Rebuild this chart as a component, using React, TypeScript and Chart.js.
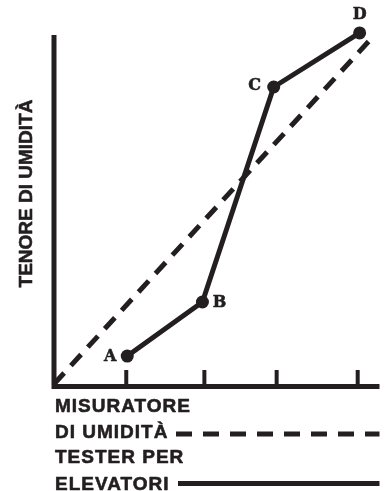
import React, { useEffect, useRef } from "react";
import { Chart, registerables } from "chart.js";

Chart.register(...registerables);

// Data (x in 0..100 along moisture meter reading, y in 0..100 moisture content)
const pointLabels = ["A", "B", "C", "D"];
const testerX = [22.5, 45.6, 67.5, 93.9];
const testerY = [8.0, 23.5, 85.1, 100.6];
const meterX = [0, 97.6];
const meterY = [0, 99.1];
const tickValues = [22.2, 46.2, 68.4, 93.3];
const yTitle = "TENORE DI UMIDITÀ";
const legendLines = ["MISURATORE", "DI UMIDITÀ", "TESTER PER", "ELEVATORI"];

const INK = "#231f20";
const SANS = "bold 19px 'Liberation Sans', Arial, sans-serif";
const MONO = "bold 16px 'DejaVu Serif', serif";

function heavyText(ctx: any, t: string, x: number, y: number) {
  ctx.fillText(t, x, y);
  ctx.lineWidth = 0.6;
  ctx.lineJoin = "round";
  ctx.strokeText(t, x, y);
}

const drawPlugin = {
  id: "customDraw",
  afterDatasetsDraw(chart: any) {
    const { ctx, chartArea, scales } = chart;
    const xs = scales.x;
    const ys = scales.y;
    ctx.save();
    ctx.strokeStyle = INK;
    ctx.fillStyle = INK;

    // Axes
    const x0 = xs.getPixelForValue(0);
    const y0 = ys.getPixelForValue(0);
    ctx.lineWidth = 5;
    ctx.lineCap = "butt";
    ctx.beginPath();
    ctx.moveTo(x0, chartArea.top);
    ctx.lineTo(x0, y0 + 2.5);
    ctx.lineTo(chartArea.right, y0 + 2.5);
    ctx.stroke();

    // Tick marks (pointing up)
    ctx.lineWidth = 4;
    tickValues.forEach((v) => {
      const px = xs.getPixelForValue(v);
      ctx.beginPath();
      ctx.moveTo(px, y0);
      ctx.lineTo(px, y0 - 14);
      ctx.stroke();
    });

    // Point labels
    const meta = chart.getDatasetMeta(0);
    const offsets = [
      [-17, 1],
      [17, 1],
      [-19, -1],
      [0, -18],
    ];
    ctx.font = MONO;
    ctx.textAlign = "center";
    ctx.textBaseline = "middle";
    meta.data.forEach((el: any, i: number) => {
      heavyText(ctx, pointLabels[i], el.x + offsets[i][0], el.y + offsets[i][1]);
    });

    // Y title
    ctx.save();
    ctx.translate(32, (chartArea.top + y0) / 2 - 16);
    ctx.rotate(-Math.PI / 2);
    ctx.font = SANS;
    ctx.textAlign = "center";
    ctx.textBaseline = "alphabetic";
    heavyText(ctx, yTitle, 0, 0);
    ctx.restore();

    // Legend
    ctx.font = SANS;
    (ctx as any).letterSpacing = "1px";
    ctx.textAlign = "left";
    ctx.textBaseline = "alphabetic";
    const baselines = [412, 438, 463, 490];
    legendLines.forEach((t, i) => heavyText(ctx, t, 55, baselines[i]));
    (ctx as any).letterSpacing = "0px";

    ctx.lineWidth = 5;
    ctx.setLineDash([16, 11]);
    ctx.beginPath();
    ctx.moveTo(176, 434);
    ctx.lineTo(chartArea.right, 434);
    ctx.stroke();
    ctx.setLineDash([]);
    ctx.beginPath();
    ctx.moveTo(178, 483.5);
    ctx.lineTo(chartArea.right, 483.5);
    ctx.stroke();

    ctx.restore();
  },
};

export default function App() {
  const ref = useRef<HTMLCanvasElement>(null);
  useEffect(() => {
    if (!ref.current) return;
    const chart = new Chart(ref.current, {
      type: "line",
      data: {
        datasets: [
          {
            label: "Tester per elevatori",
            data: testerX.map((x, i) => ({ x, y: testerY[i] })),
            borderColor: INK,
            backgroundColor: INK,
            borderWidth: 5,
            pointRadius: 6.5,
            pointBackgroundColor: INK,
            pointBorderWidth: 0,
            borderJoinStyle: "round",
            tension: 0,
            clip: false as any,
          },
          {
            label: "Misuratore di umidità",
            data: meterX.map((x, i) => ({ x, y: meterY[i] })),
            borderColor: INK,
            borderWidth: 5,
            borderDash: [15, 10],
            pointRadius: 0,
            tension: 0,
            clip: false as any,
          },
        ],
      },
      options: {
        responsive: false,
        animation: false,
        devicePixelRatio: 1,
        layout: { padding: { left: 54, right: 3, top: 35, bottom: 107 } },
        plugins: { legend: { display: false }, tooltip: { enabled: false } },
        scales: {
          x: { type: "linear", min: 0, max: 100, display: false },
          y: { type: "linear", min: 0, max: 100, display: false },
        },
      },
      plugins: [drawPlugin],
    });
    let alive = true;
    const fonts: any = (document as any).fonts;
    if (fonts && fonts.load) {
      Promise.all([fonts.load(SANS, yTitle), fonts.load(MONO, "ABCD")])
        .then(() => {
          if (alive) chart.draw();
        })
        .catch(() => {});
    }
    return () => {
      alive = false;
      chart.destroy();
    };
  }, []);
  return (
    <div style={{ position: "absolute", left: 0, top: 0, width: 386, height: 491, background: "#fff" }}>
      <canvas ref={ref} width={386} height={491} />
    </div>
  );
}
